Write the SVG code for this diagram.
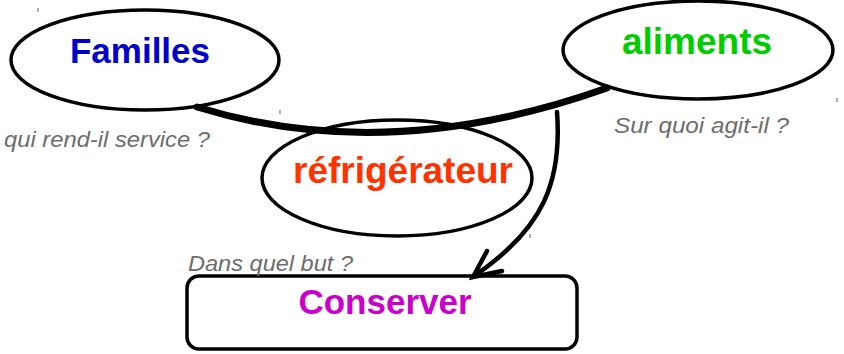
<svg xmlns="http://www.w3.org/2000/svg" width="844" height="354" viewBox="0 0 844 354">
<style>
.node{fill:#fff;stroke:#000;stroke-width:3.5}
.lbl{font-family:"Liberation Sans",Arial,sans-serif;font-weight:bold;text-anchor:middle}
.q{font-family:"Liberation Sans",Arial,sans-serif;font-style:italic;fill:#6d6d6d;font-size:22px}
.tick{stroke:#777;stroke-width:1.2}
</style>
<rect width="844" height="354" fill="#fff"/>
<g id="ticks">
<line class="tick" x1="38" y1="8" x2="38" y2="12"/>
<line class="tick" x1="280" y1="110" x2="280" y2="114"/>
<line class="tick" x1="837" y1="98" x2="837" y2="102"/>
<line class="tick" x1="530" y1="234" x2="530" y2="238"/>
</g>
<g id="famille">
<ellipse class="node" cx="145" cy="60" rx="134" ry="50"/>
<text class="lbl" x="140" y="63" font-size="35" fill="#0000cc">Familles</text>
</g>
<g id="aliments">
<ellipse class="node" cx="698" cy="50" rx="135" ry="49"/>
<text class="lbl" x="697" y="54" font-size="37" fill="#00cc00">aliments</text>
</g>
<g id="refrigerateur">
<ellipse class="node" cx="397" cy="178" rx="135" ry="58"/>
<text class="lbl" x="403" y="183" font-size="37" fill="#ff3300">réfrigérateur</text>
</g>
<g id="conserver">
<rect class="node" x="187" y="276" width="390" height="73" rx="12"/>
<text class="lbl" x="385" y="314" font-size="35" fill="#cc00cc">Conserver</text>
</g>
<g id="connectors" fill="none" stroke="#000" stroke-linecap="round">
<path d="M197,107 Q388,166 607,88" stroke-width="7"/>
<path d="M557,112 C562,180 545,228 474,276" stroke-width="4.5"/>
<path d="M487,251 L473,277 L502,271" stroke-width="4.5" stroke-linejoin="miter"/>
</g>
<g id="questions">
<text class="q" x="4" y="147" textLength="206" lengthAdjust="spacingAndGlyphs">qui rend-il service ?</text>
<text class="q" x="614" y="133" textLength="175" lengthAdjust="spacingAndGlyphs">Sur quoi agit-il ?</text>
<text class="q" x="188" y="271" textLength="165" lengthAdjust="spacingAndGlyphs">Dans quel but ?</text>
</g>
</svg>
